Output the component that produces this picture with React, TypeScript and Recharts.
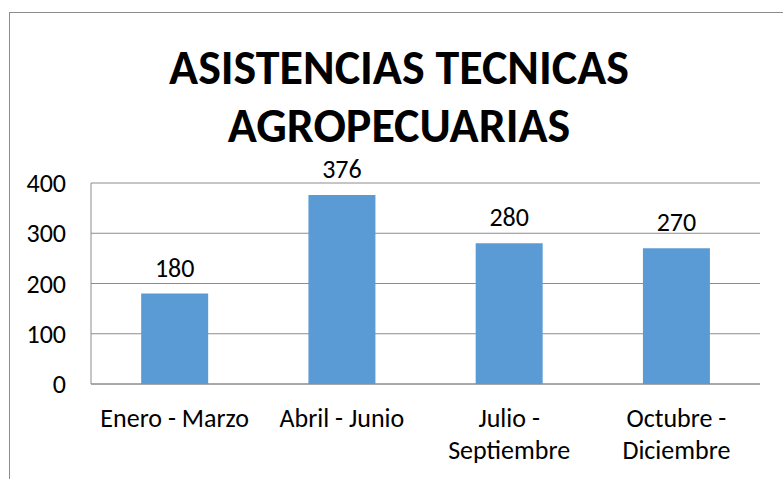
import React from "react";
import { BarChart, Bar, XAxis, YAxis, CartesianGrid, LabelList } from "recharts";

const periods = ["Enero - Marzo", "Abril - Junio", "Julio - Septiembre", "Octubre - Diciembre"];
const asistencias = [180, 376, 280, 270];
const yTicks = [0, 100, 200, 300, 400];
const titleLines = ["ASISTENCIAS TECNICAS", "AGROPECUARIAS"];

const data = periods.map((p, i) => ({ periodo: p, asistencias: asistencias[i] }));

const FONT = "Carlito, Calibri, Lato, 'Open Sans', sans-serif";
const GRAY = "#8c8c8c";

function PeriodTick(props: any) {
  const { x, y, payload } = props;
  const text: string = payload.value;
  // long labels wrap after the dash, like the original
  const lines = text.length > 14 && text.includes(" - ")
    ? [text.split(" - ")[0] + " -", text.split(" - ")[1]]
    : [text];
  return (
    <text x={x} y={y} textAnchor="middle" fontSize={26} fontFamily={FONT} fill="#000">
      {lines.map((l, i) => (
        <tspan key={i} x={x} dy={i === 0 ? 35 : 32}>{l}</tspan>
      ))}
    </text>
  );
}

export default function App() {
  return (
    <div style={{ position: "absolute", left: 0, top: 0, width: 783, height: 479, overflow: "hidden", background: "#fff" }}>
      <div style={{ position: "absolute", left: 9, top: 12, width: 820, height: 520, border: `1px solid ${GRAY}` }} />
      {titleLines.map((t, i) => (
        <div
          key={t}
          style={{
            position: "absolute", left: 0, width: 798, top: i === 0 ? 39 : 97, textAlign: "center",
            fontFamily: FONT, fontWeight: 700, fontSize: 48, lineHeight: "58px", color: "#000",
          }}
        >
          {t}
        </div>
      ))}
      <div style={{ position: "absolute", left: 0, top: 0 }}>
        <BarChart width={783} height={479} data={data} margin={{ top: 183, right: 23, bottom: 0, left: 0 }} barCategoryGap="30%">
          <CartesianGrid horizontal vertical={false} stroke={GRAY} />
          <XAxis dataKey="periodo" height={95} axisLine={{ stroke: GRAY }} tickLine={false} tick={<PeriodTick />} interval={0} />
          <YAxis
            width={91}
            domain={[0, 400]}
            ticks={yTicks}
            axisLine={{ stroke: GRAY }}
            tickLine={false}
            tickSize={0}
            tickMargin={25}
            tick={{ fontSize: 26, fill: "#000", fontFamily: FONT }}
          />
          <Bar dataKey="asistencias" fill="#5B9BD5" isAnimationActive={false}>
            <LabelList dataKey="asistencias" position="top" offset={17} fontSize={26} fill="#000" fontFamily={FONT} />
          </Bar>
        </BarChart>
      </div>
    </div>
  );
}
